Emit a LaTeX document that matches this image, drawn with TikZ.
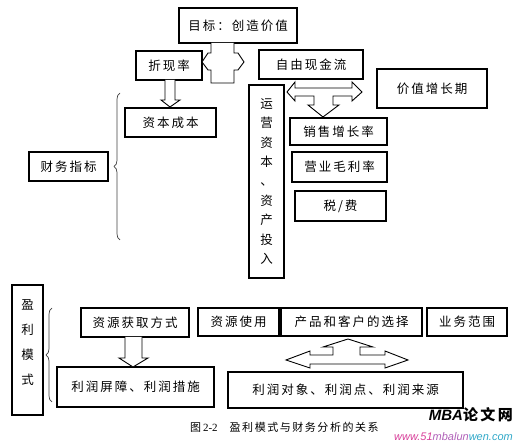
\documentclass[tikz,border=0pt]{standalone}
\usepackage{fontspec}
\setmainfont{Liberation Serif}
\newfontfamily\cjk[LetterSpace=16]{Noto Sans CJK SC}
\newfontfamily\cjkcap[LetterSpace=14]{Noto Sans CJK SC}
\newfontfamily\wmfont{Liberation Sans}
\usetikzlibrary{calc,decorations.pathreplacing}
\definecolor{wmpink}{HTML}{D8409A}
\definecolor{wmpurple}{HTML}{B060B8}
\definecolor{wmcyan}{HTML}{30A8C8}
\begin{document}
\begin{tikzpicture}[x=1pt,y=-1pt,
  box/.style={draw, line width=1.2pt, inner sep=0pt, outer sep=0pt,
    font=\cjk\fontsize{12.5}{14}\selectfont},
  barrow/.style={draw, line width=0.9pt, fill=white, line join=miter},
  brc/.style={draw=black!75, line width=0.7pt, decorate,
    decoration={brace, amplitude=6pt}}]
\useasboundingbox (0,0) rectangle (517,443);

% ---------- upper part ----------
\node[box, minimum width=118pt, minimum height=35pt] (goal) at (238,25.5) {目标：创造价值};
\node[box, minimum width=66pt, minimum height=29pt] (zxl) at (169,65.5) {折现率};
\node[box, minimum width=104pt, minimum height=29pt] (fcf) at (311,64.5) {自由现金流};
\node[box, minimum width=91pt, minimum height=29pt] (zbcb) at (170.5,122.5) {资本成本};
\node[box, minimum width=79pt, minimum height=29pt] (cwzb) at (68.5,166.5) {财务指标};
\node[box, minimum width=35pt, minimum height=193pt, align=center,
  font=\cjk\fontsize{12.5}{19.4}\selectfont] (yyzb) at (266.5,181.5)
  {运\\营\\资\\本\\、\\资\\产\\投\\入};
\node[box, minimum width=110pt, minimum height=39pt] (jzzzq) at (432,88.5) {价值增长期};
\node[box, minimum width=97pt, minimum height=27pt] (xszzl) at (338.5,131.5) {销售增长率};
\node[box, minimum width=95pt, minimum height=30pt] (yymll) at (339.5,167) {营业毛利率};
\node[box, minimum width=91pt, minimum height=30pt] (sf) at (340.5,206) {税/费};

% block arrow under the goal
\draw[barrow] ($(goal.south)+(-27,0)$) -- ++(0,10) -- ++(-3,0) -- ++(-6,9) -- ++(6,8)
  -- ++(3,0) -- ++(0,13) -- ++(23,0) -- ++(0,-13) -- ++(4,0) -- ++(6,-8) -- ++(-6,-9)
  -- ++(-4,0) -- ($(goal.south)+(-4,0)$);
% down arrow 折现率 -> 资本成本
\draw[barrow] ($(zxl.south)+(-4,0)$) -- ++(0,20) -- ++(-4,0) -- ($(zbcb.north)+(-0.5,-1)$)
  -- ($(zxl.south)+(11,20)$) -- ++(-5,0) -- ($(zxl.south)+(6,0)$);
% T arrow under 自由现金流
\draw[barrow] (287,92) -- (295,82) -- (295,88) -- (352,88) -- (352,82) -- (362,92)
  -- (352,101) -- (352,96) -- (333,96) -- (333,105) -- (339,105) -- ($(xszzl.north)+(-15.5,-1)$)
  -- (308,105) -- (314,105) -- (314,96) -- (295,96) -- (295,101) -- cycle;

% brace
\draw[brc] (120,240) -- (120,93);

% ---------- lower part ----------
\node[box, minimum width=31pt, minimum height=130pt] (ylms) at (27.5,350) {};
\node[font=\cjk\fontsize{12.5}{25}\selectfont, align=center, inner sep=0pt] (ylmst) at (27.5,343) {盈\\利\\模\\式};
\node[box, minimum width=108pt, minimum height=29pt] (zyhq) at (135,322.5) {资源获取方式};
\node[box, minimum width=81pt, minimum height=28pt] (zysy) at (238.5,322) {资源使用};
\node[box, minimum width=141pt, minimum height=28pt] (cpkh) at (351.5,322) {产品和客户的选择};
\node[box, minimum width=80pt, minimum height=28pt] (ywfw) at (467,322) {业务范围};
\node[box, minimum width=157pt, minimum height=40pt] (lrpz) at (135.5,387) {利润屏障、利润措施};
\node[box, minimum width=235pt, minimum height=36pt] (lrdx) at (345.5,390) {利润对象、利润点、利润来源};

% down arrow 资源获取方式 -> 利润屏障
\draw[barrow] ($(zyhq.south)+(-10,0)$) -- ++(0,21) -- ++(-6,0) -- ($(lrpz.north)+(-2.5,0)$)
  -- ($(zyhq.south)+(13,21)$) -- ++(-6,0) -- ($(zyhq.south)+(7,0)$);
% inverted T arrow
\draw[barrow] (286,360) -- (310,351) -- (310,355) -- (333,355) -- (333,347) -- (323,347)
  -- ($(cpkh.south)+(-3.5,3)$) -- (373,347) -- (360,347) -- (360,355) -- (385,355) -- (385,351)
  -- (408,360) -- (385,368) -- (385,364) -- (310,364) -- (310,368) -- cycle;

% brace
\draw[brc] (52,402) -- (52,308);

% caption
\node[inner sep=0pt, anchor=west, font=\fontsize{11}{13}\selectfont] (cap) at (190,427)
  {{\cjkcap 图}\,2-2\hspace{12pt}{\cjkcap 盈利模式与财务分析的关系}};

% watermark
\node[inner sep=0pt, anchor=east, font=\fontsize{15}{17}\selectfont] (wm1) at (513,415)
  {{\wmfont\bfseries\itshape MBA}{\cjk\bfseries 论文网}};
\node[inner sep=0pt, anchor=east, font=\wmfont\itshape\fontsize{11}{13}\selectfont] (wm2) at (513,437)
  {\textcolor{wmpink}{www.51}\textcolor{wmpurple}{mbalun}\textcolor{wmcyan}{wen.com}};
\end{tikzpicture}
\end{document}
